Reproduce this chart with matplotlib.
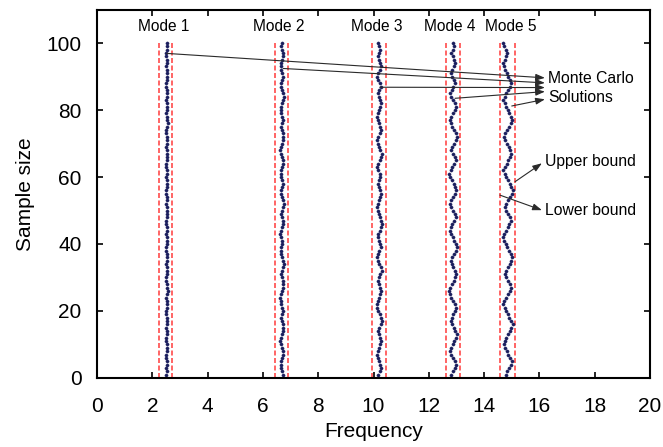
import matplotlib
matplotlib.use("Agg")
import matplotlib.pyplot as plt
import numpy as np

plt.rcParams['font.family'] = ['Liberation Sans', 'DejaVu Sans']

sample_size = list(range(1, 101))

mode1 = [2.50,2.52,2.51,2.53,2.52,2.50,2.51,2.53,2.54,2.52,
         2.51,2.50,2.52,2.53,2.51,2.52,2.54,2.53,2.51,2.50,
         2.52,2.53,2.52,2.51,2.53,2.55,2.53,2.52,2.50,2.51,
         2.52,2.54,2.53,2.51,2.52,2.53,2.52,2.50,2.51,2.53,
         2.54,2.52,2.51,2.52,2.53,2.51,2.50,2.52,2.54,2.53,
         2.52,2.51,2.53,2.52,2.50,2.51,2.53,2.54,2.52,2.51,
         2.52,2.53,2.51,2.50,2.52,2.54,2.53,2.52,2.51,2.52,
         2.53,2.52,2.50,2.51,2.53,2.55,2.53,2.52,2.51,2.52,
         2.54,2.53,2.51,2.52,2.53,2.52,2.50,2.51,2.52,2.54,
         2.53,2.52,2.51,2.53,2.52,2.51,2.50,2.52,2.53,2.52]

mode2 = [6.72,6.70,6.66,6.64,6.67,6.70,6.73,6.71,6.68,6.65,
         6.63,6.66,6.69,6.72,6.74,6.71,6.68,6.66,6.69,6.72,
         6.70,6.67,6.64,6.62,6.65,6.68,6.71,6.74,6.72,6.69,
         6.67,6.70,6.73,6.75,6.72,6.69,6.66,6.64,6.67,6.70,
         6.68,6.65,6.63,6.66,6.70,6.73,6.71,6.68,6.66,6.69,
         6.72,6.75,6.73,6.70,6.67,6.65,6.68,6.71,6.69,6.66,
         6.64,6.67,6.70,6.73,6.71,6.68,6.65,6.63,6.66,6.69,
         6.72,6.74,6.71,6.68,6.66,6.69,6.72,6.70,6.67,6.64,
         6.66,6.69,6.72,6.75,6.73,6.70,6.67,6.65,6.68,6.71,
         6.69,6.66,6.64,6.67,6.70,6.73,6.71,6.68,6.66,6.69]

mode3 = [10.18,10.22,10.26,10.23,10.19,10.15,10.12,10.16,10.21,10.25,
         10.28,10.24,10.20,10.17,10.21,10.26,10.30,10.27,10.22,10.18,
         10.14,10.11,10.15,10.20,10.24,10.27,10.23,10.19,10.16,10.20,
         10.25,10.29,10.26,10.21,10.17,10.13,10.16,10.21,10.26,10.24,
         10.19,10.15,10.18,10.23,10.27,10.31,10.28,10.23,10.19,10.16,
         10.12,10.15,10.19,10.24,10.28,10.25,10.20,10.17,10.21,10.25,
         10.22,10.18,10.14,10.17,10.22,10.26,10.29,10.25,10.21,10.17,
         10.14,10.18,10.23,10.27,10.24,10.19,10.15,10.12,10.16,10.21,
         10.25,10.28,10.24,10.20,10.17,10.21,10.26,10.23,10.18,10.14,
         10.17,10.22,10.26,10.23,10.19,10.16,10.20,10.24,10.21,10.17]

mode4 = [12.82,12.88,12.94,12.98,12.93,12.87,12.81,12.76,12.80,12.86,
         12.92,12.97,13.01,12.96,12.90,12.84,12.79,12.83,12.89,12.95,
         12.99,12.94,12.88,12.82,12.77,12.73,12.78,12.84,12.90,12.96,
         13.00,12.95,12.89,12.83,12.79,12.84,12.91,12.97,13.02,12.98,
         12.92,12.86,12.80,12.75,12.79,12.85,12.92,12.97,12.93,12.87,
         12.81,12.77,12.82,12.89,12.95,13.00,12.96,12.90,12.84,12.78,
         12.74,12.79,12.85,12.91,12.97,12.93,12.87,12.81,12.85,12.92,
         12.98,13.02,12.97,12.91,12.85,12.80,12.76,12.81,12.88,12.94,
         12.99,12.94,12.88,12.82,12.78,12.83,12.89,12.95,12.91,12.85,
         12.80,12.84,12.90,12.96,12.92,12.86,12.82,12.87,12.92,12.86]

mode5 = [14.78,14.84,14.90,14.96,15.00,14.95,14.88,14.82,14.76,14.71,
         14.75,14.81,14.88,14.94,14.99,15.03,14.98,14.91,14.85,14.79,
         14.74,14.69,14.73,14.80,14.86,14.93,14.98,14.94,14.87,14.81,
         14.75,14.79,14.86,14.92,14.97,15.02,14.97,14.90,14.84,14.78,
         14.72,14.68,14.73,14.79,14.85,14.91,14.96,14.92,14.86,14.80,
         14.76,14.81,14.87,14.94,15.00,15.04,14.99,14.92,14.86,14.80,
         14.74,14.70,14.75,14.82,14.88,14.94,14.99,14.95,14.89,14.83,
         14.77,14.72,14.76,14.83,14.90,14.96,15.01,14.97,14.91,14.85,
         14.79,14.74,14.70,14.74,14.80,14.86,14.92,14.97,14.93,14.87,
         14.82,14.77,14.73,14.70,14.74,14.79,14.84,14.78,14.73,14.69]

modes = [mode1, mode2, mode3, mode4, mode5]
mode_labels = ["Mode 1", "Mode 2", "Mode 3", "Mode 4", "Mode 5"]
mode_label_x = [2.42, 6.58, 10.13, 12.77, 14.97]
lower_bounds = [2.26, 6.44, 9.93, 12.61, 14.57]
upper_bounds = [2.73, 6.90, 10.44, 13.13, 15.12]

# Monte Carlo arrows: (tail freq, tail size) -> (head freq, head size)
mc_tails = [(2.52, 96.9), (6.73, 92.4), (10.23, 86.8), (12.95, 83.5), (15.0, 81.2)]
mc_heads = [(16.2, 89.6), (16.2, 88.1), (16.2, 86.7), (16.2, 85.5), (16.2, 83.2)]

fig = plt.figure(figsize=(6.63, 4.47), dpi=100)
ax = fig.add_axes([0.1463, 0.1544, 0.8341, 0.8243])

for lo, hi in zip(lower_bounds, upper_bounds):
    ax.plot([lo, lo], [0, 100.5], color='#ff4a4a', lw=1.2, ls=(0, (3, 1.5)))
    ax.plot([hi, hi], [0, 100.5], color='#ff4a4a', lw=1.2, ls=(0, (3, 1.5)))

for m in modes:
    ax.plot(m, sample_size, 'o', ms=2.3, color='#1b1f5e', mec='#1b1f5e', mew=0.3)

for lab, x in zip(mode_labels, mode_label_x):
    ax.text(x, 104.8, lab, ha='center', va='center', fontsize=11.2)

arrow_kw = dict(arrowstyle='-|>,head_length=0.55,head_width=0.2',
                color='#2a2a2a', lw=0.8, shrinkA=0, shrinkB=0)
for (tx, ty), (hx, hy) in zip(mc_tails, mc_heads):
    ax.annotate('', xy=(hx, hy), xytext=(tx, ty), arrowprops=arrow_kw)

ax.text(16.32, 89.3, "Monte Carlo", ha='left', va='center', fontsize=11.3)
ax.text(16.32, 83.6, "Solutions", ha='left', va='center', fontsize=11.3)

ax.annotate('', xy=(16.09, 64.1), xytext=(15.12, 58.6), arrowprops=arrow_kw)
ax.text(16.22, 64.6, "Upper bound", ha='left', va='center', fontsize=11.3)
ax.annotate('', xy=(16.09, 50.1), xytext=(14.57, 54.6), arrowprops=arrow_kw)
ax.text(16.22, 49.9, "Lower bound", ha='left', va='center', fontsize=11.3)

ax.set_xlim(0, 20)
ax.set_ylim(0, 110)
ax.set_xticks(np.arange(0, 21, 2))
ax.set_yticks(np.arange(0, 101, 20))
ax.tick_params(direction='in', top=True, right=True, length=4, width=1.2,
               labelsize=15)
ax.tick_params(axis='x', pad=14)
ax.tick_params(axis='y', pad=11)
for s in ax.spines.values():
    s.set_linewidth(1.5)
ax.set_xlabel("Frequency", fontsize=15, labelpad=4)
ax.set_ylabel("Sample size", fontsize=15, labelpad=8)

fig.savefig("out.png", dpi=100)
